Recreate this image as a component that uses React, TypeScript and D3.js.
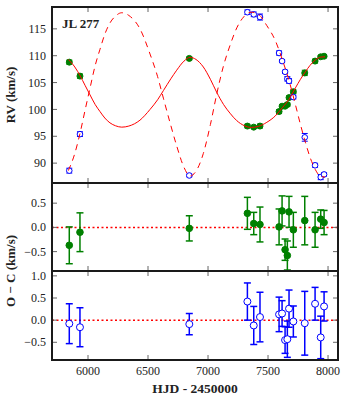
import React from "react";
import * as d3 from "d3";

// observation epochs (HJD - 2450000)
const hjd = [5844, 5933, 6844, 7328, 7381, 7433, 7592, 7617, 7642, 7661, 7675, 7711, 7806, 7892, 7939, 7967];

// primary (filled green) and secondary (open blue) radial velocities, km/s
const rvPrimary = [108.8, 106.2, 109.5, 96.9, 96.7, 96.9, 99.6, 100.6, 100.6, 100.9, 102.2, 103.3, 106.8, 109.0, 109.8, 109.9];
const rvSecondary = [88.6, 95.4, 87.7, 118.1, 117.7, 117.2, 110.5, 109.0, 107.0, 105.7, 105.3, 102.3, 94.8, 89.6, 87.4, 87.9];

// residuals and their errors
const ocPrimary = [-0.37, -0.1, -0.02, 0.29, 0.08, 0.06, 0.01, 0.34, -0.46, -0.58, 0.32, -0.05, 0.14, -0.05, 0.17, 0.1];
const errPrimary = [0.38, 0.4, 0.26, 0.33, 0.23, 0.36, 0.37, 0.31, 0.22, 0.3, 0.32, 0.36, 0.5, 0.36, 0.19, 0.25];
const ocSecondary = [-0.08, -0.16, -0.09, 0.42, -0.12, 0.07, 0.13, 0.15, -0.45, -0.43, 0.26, -0.03, -0.07, 0.37, -0.39, 0.31];
const errSecondary = [0.45, 0.44, 0.24, 0.42, 0.43, 0.56, 0.39, 0.29, 0.3, 0.41, 0.42, 0.35, 0.72, 0.37, 0.48, 0.33];

// orbit curves
const modelHjd = [5836, 5890, 5936, 5975, 6017, 6060, 6100, 6140, 6183, 6230, 6281, 6340, 6433, 6517, 6580, 6628, 6690, 6739, 6800, 6850, 6900, 6961, 7020, 7072, 7130, 7183, 7240, 7300, 7360, 7420, 7490, 7561, 7620, 7672, 7728, 7770, 7811, 7850, 7894, 7940, 7975];
const modelPrimary = [109.3, 107.9, 106.2, 104.5, 102.7, 100.9, 99.6, 98.4, 97.5, 96.95, 96.7, 96.9, 98.0, 100.0, 101.8, 103.5, 105.7, 107.3, 109.0, 109.7, 109.3, 107.9, 105.6, 103.2, 100.9, 99.3, 97.9, 97.0, 96.65, 96.85, 97.6, 98.8, 100.35, 101.8, 104.0, 105.6, 107.0, 108.2, 109.2, 109.75, 109.8];
const modelSecondary = [88.6, 91.8, 95.8, 99.8, 104.0, 108.2, 111.2, 114.0, 116.1, 117.4, 118.0, 117.5, 115.0, 110.3, 106.1, 102.1, 97.0, 93.2, 89.2, 87.6, 88.5, 91.8, 97.2, 102.8, 108.2, 111.9, 115.2, 117.3, 118.1, 117.7, 115.6, 112.8, 109.2, 105.6, 100.9, 97.2, 93.9, 91.1, 88.8, 87.5, 87.4];

const xTicks = [6000, 6500, 7000, 7500, 8000];
const rvTicks = [90, 95, 100, 105, 110, 115];
const oc1Ticks = [-0.5, 0.0, 0.5];
const oc2Ticks = [-0.5, 0.0, 0.5, 1.0];

const FONT = "'Liberation Serif', 'DejaVu Serif', serif";
const GREEN = "#008000";
const BLUE = "#0000ff";
const RED = "#ff0000";

function Frame({ x, y, yTicks, fmt, showX }) {
  const [x0, x1] = x.range();
  const [yb, yt] = y.range();
  const t = 5;
  return (
    <g>
      {xTicks.map((v) => (
        <g key={"x" + v}>
          <line x1={x(v)} x2={x(v)} y1={yb} y2={yb - t} stroke="#666" />
          <line x1={x(v)} x2={x(v)} y1={yt} y2={yt + t} stroke="#666" />
          {showX && (
            <text x={x(v)} y={yb + 15} textAnchor="middle" fontSize={12} fontFamily={FONT} fill="#222">
              {v}
            </text>
          )}
        </g>
      ))}
      {yTicks.map((v) => (
        <g key={"y" + v}>
          <line x1={x0} x2={x0 + t} y1={y(v)} y2={y(v)} stroke="#666" />
          <line x1={x1} x2={x1 - t} y1={y(v)} y2={y(v)} stroke="#666" />
          <text x={x0 - 6} y={y(v)} dy="0.34em" textAnchor="end" fontSize={12} fontFamily={FONT} fill="#222">
            {fmt(v)}
          </text>
        </g>
      ))}
      <rect x={x0} y={yt} width={x1 - x0} height={yb - yt} fill="none" stroke="#1a1a1a" strokeWidth={2} />
    </g>
  );
}

function ErrPoints({ x, y, vals, errs, color, r, open, cap, lw }) {
  return (
    <g>
      {hjd.map((t, i) => {
        const cx = x(t);
        const lo = y(vals[i] - errs[i]);
        const hi = y(vals[i] + errs[i]);
        return (
          <g key={i}>
            <line x1={cx} x2={cx} y1={lo} y2={hi} stroke={color} strokeWidth={lw} />
            <line x1={cx - cap} x2={cx + cap} y1={lo} y2={lo} stroke={color} strokeWidth={lw} />
            <line x1={cx - cap} x2={cx + cap} y1={hi} y2={hi} stroke={color} strokeWidth={lw} />
            <circle cx={cx} cy={y(vals[i])} r={r} fill={open ? "#fff" : color} stroke={color} strokeWidth={1} />
          </g>
        );
      })}
    </g>
  );
}

export default function App() {
  const x = d3.scaleLinear().domain([5700, 8083]).range([52, 338]);
  const yRv = d3.scaleLinear().domain([86.3, 119.07]).range([183, 7]);
  const yOc1 = d3.scaleLinear().domain([-0.9, 0.916]).range([271, 183]);
  const yOc2 = d3.scaleLinear().domain([-0.9, 1.11]).range([360, 271]);

  const line = d3
    .line<number>()
    .x((d, i) => x(modelHjd[i]))
    .curve(d3.curveMonotoneX);
  const primaryPath = line.y((d) => yRv(d))(modelPrimary);
  const secondaryPath = line.y((d) => yRv(d))(modelSecondary);

  const fmtInt = d3.format("d");
  const fmt1 = d3.format(".1f");

  return (
    <svg width={347} height={400} style={{ position: "absolute", left: 0, top: 0, background: "#fff" }}>
      {/* RV panel */}
      <ErrPoints x={x} y={yRv} vals={rvPrimary} errs={errPrimary} color={GREEN} r={3} open={false} cap={3} lw={1} />
      <ErrPoints x={x} y={yRv} vals={rvSecondary} errs={errSecondary} color={BLUE} r={2.8} open={true} cap={3} lw={1} />
      <path d={primaryPath} fill="none" stroke={RED} strokeWidth={1} />
      <path d={secondaryPath} fill="none" stroke={RED} strokeWidth={1} strokeDasharray="6,5" />
      <Frame x={x} y={yRv} yTicks={rvTicks} fmt={fmtInt} showX={false} />
      <text x={62} y={28} fontSize={13} fontWeight="bold" fontFamily={FONT} fill="#222">
        JL 277
      </text>

      {/* O-C primary */}
      <line x1={x(5700)} x2={x(8083)} y1={yOc1(0)} y2={yOc1(0)} stroke={RED} strokeWidth={1.5} strokeDasharray="2,2.5" />
      <ErrPoints x={x} y={yOc1} vals={ocPrimary} errs={errPrimary} color={GREEN} r={3.3} open={false} cap={3.5} lw={1.5} />
      <Frame x={x} y={yOc1} yTicks={oc1Ticks} fmt={fmt1} showX={false} />

      {/* O-C secondary */}
      <line x1={x(5700)} x2={x(8083)} y1={yOc2(0)} y2={yOc2(0)} stroke={RED} strokeWidth={1.5} strokeDasharray="2,2.5" />
      <ErrPoints x={x} y={yOc2} vals={ocSecondary} errs={errSecondary} color={BLUE} r={3.5} open={true} cap={3.5} lw={1.5} />
      <Frame x={x} y={yOc2} yTicks={oc2Ticks} fmt={fmt1} showX={true} />

      {/* axis labels */}
      <text x={195} y={393} textAnchor="middle" fontSize={13.5} fontWeight="bold" fontFamily={FONT} fill="#222">
        HJD - 2450000
      </text>
      <text transform="translate(15,95) rotate(-90)" textAnchor="middle" fontSize={13} fontWeight="bold" fontFamily={FONT} fill="#222">
        RV (km/s)
      </text>
      <text transform="translate(15,271) rotate(-90)" textAnchor="middle" fontSize={13} fontWeight="bold" fontFamily={FONT} fill="#222">
        O − C (km/s)
      </text>
    </svg>
  );
}
